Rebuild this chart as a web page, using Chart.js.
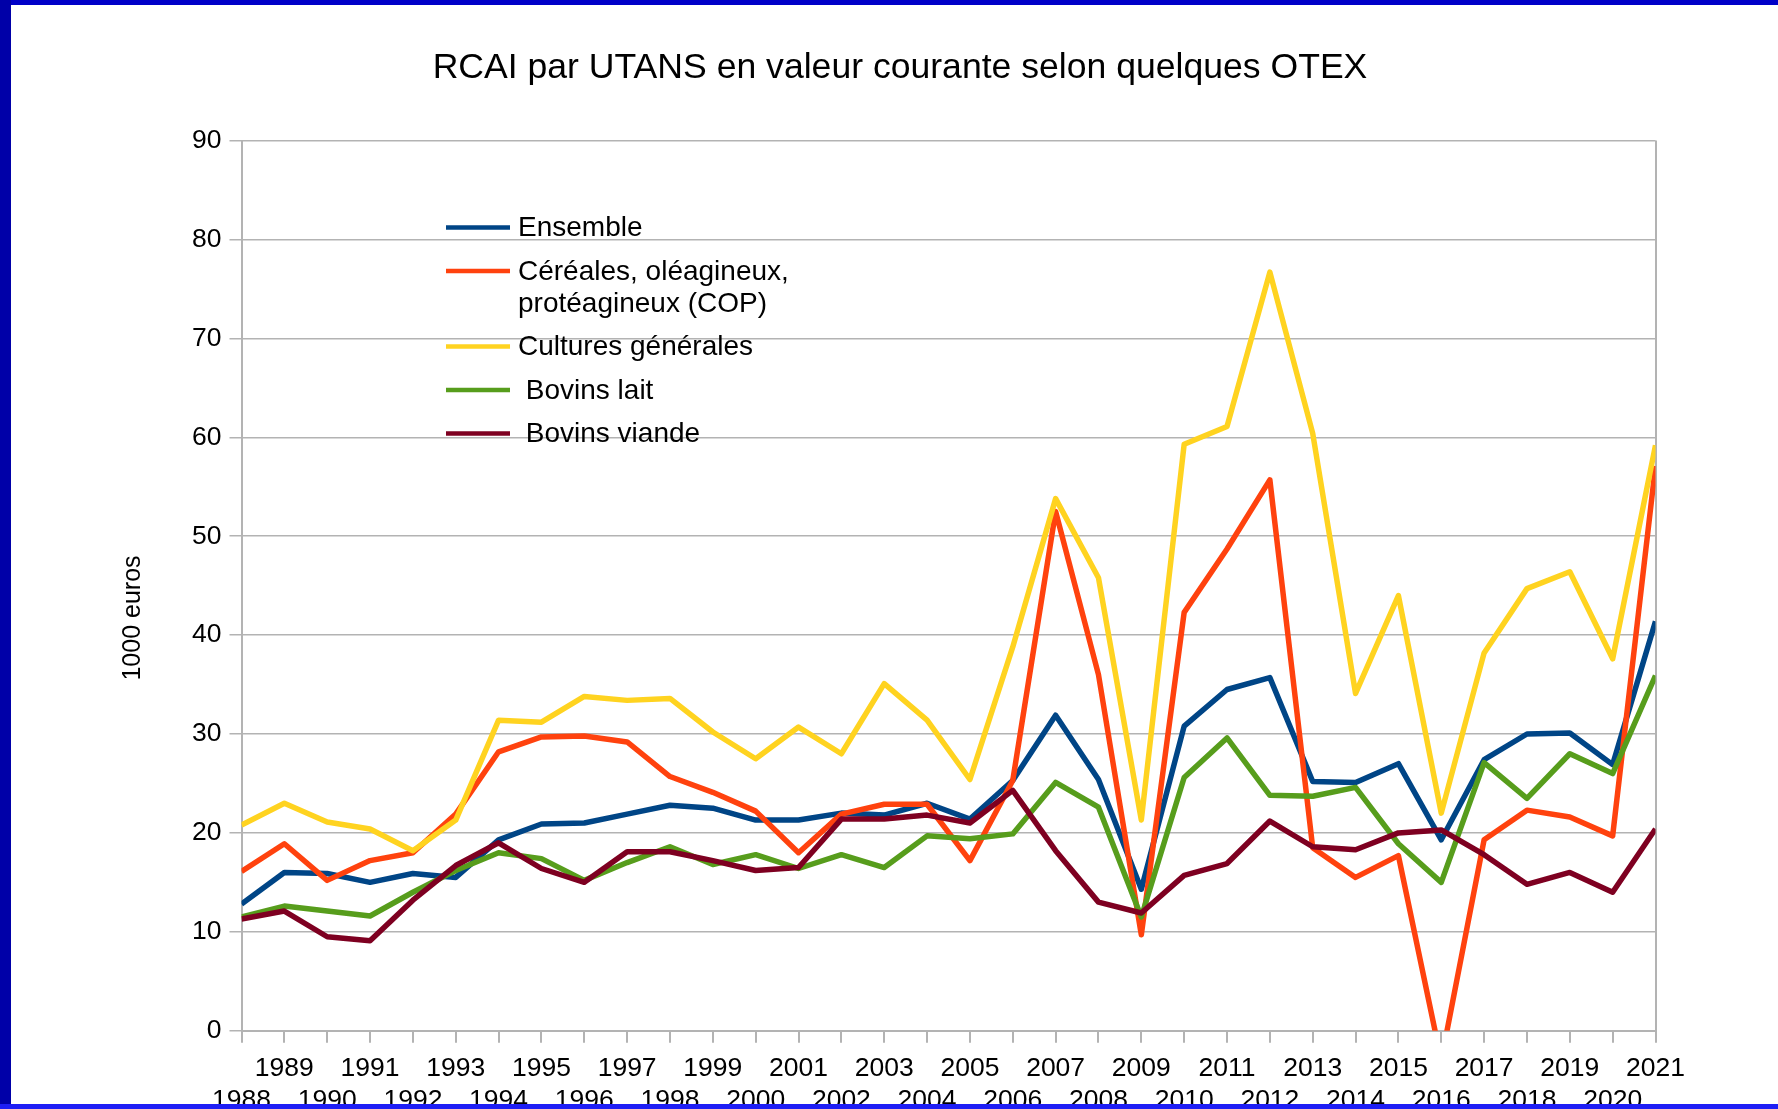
<!DOCTYPE html>
<html>
<head>
<meta charset="utf-8">
<title>RCAI par UTANS</title>
<script src="https://cdn.jsdelivr.net/npm/chart.js@4.4.1/dist/chart.umd.min.js"></script>
<style>
  html, body { margin: 0; padding: 0; background: #fff; }
  #wrap { position: relative; width: 1778px; height: 1109px; overflow: hidden; }
  #wrap canvas { position: absolute; left: 0; top: 0; }
  .bar { position: absolute; }
</style>
</head>
<body>
<div id="wrap">
  <canvas id="chart" width="1778" height="1109"></canvas>
  <div class="bar" style="left:0;top:0;width:1778px;height:5px;background:#0000c8"></div>
  <div class="bar" style="left:0;top:0;width:11px;height:1109px;background:#0000a8"></div>
  <div class="bar" style="left:0;top:1104px;width:1778px;height:5px;background:#1e1ef5"></div>
</div>
<script>
// données (1000 euros)
const years = ["1988", "1989", "1990", "1991", "1992", "1993", "1994", "1995", "1996", "1997",
               "1998", "1999", "2000", "2001", "2002", "2003", "2004", "2005", "2006", "2007",
               "2008", "2009", "2010", "2011", "2012", "2013", "2014", "2015", "2016", "2017",
               "2018", "2019", "2020", "2021"];

const ensemble = [12.8, 16.0, 15.9, 15.0, 15.9, 15.5, 19.3, 20.9, 21.0, 21.9,
                  22.8, 22.5, 21.3, 21.3, 22.0, 21.8, 23.0, 21.4, 25.3, 31.9,
                  25.4, 14.3, 30.8, 34.5, 35.7, 25.2, 25.1, 27.0, 19.3, 27.4,
                  30.0, 30.1, 26.9, 41.4];

const cereales = [16.1, 18.9, 15.2, 17.2, 18.0, 21.9, 28.2, 29.7, 29.8, 29.2,
                  25.7, 24.1, 22.2, 18.0, 21.9, 22.9, 22.9, 17.2, 25.3, 52.5,
                  36.0, 9.7, 42.3, 48.7, 55.7, 18.5, 15.5, 17.7, -3.0, 19.3,
                  22.3, 21.6, 19.7, 57.1];

const cultures = [20.8, 23.0, 21.1, 20.4, 18.2, 21.3, 31.4, 31.2, 33.8, 33.4,
                  33.6, 30.2, 27.5, 30.7, 28.0, 35.1, 31.4, 25.4, 38.8, 53.8,
                  45.8, 21.3, 59.3, 61.1, 76.7, 60.4, 34.1, 44.0, 22.0, 38.2,
                  44.7, 46.4, 37.6, 59.2];

const bovinsLait = [11.5, 12.6, 12.1, 11.6, 14.0, 16.2, 18.0, 17.4, 15.2, 17.0,
                    18.6, 16.8, 17.8, 16.4, 17.8, 16.5, 19.7, 19.4, 19.9, 25.1,
                    22.6, 11.5, 25.6, 29.6, 23.8, 23.7, 24.6, 18.9, 15.0, 27.1,
                    23.5, 28.0, 26.0, 35.9];

const bovinsViande = [11.3, 12.1, 9.5, 9.1, 13.2, 16.7, 19.0, 16.4, 15.0, 18.1,
                      18.1, 17.2, 16.2, 16.5, 21.4, 21.4, 21.8, 21.0, 24.3, 18.2,
                      13.0, 11.9, 15.7, 16.9, 21.2, 18.6, 18.3, 20.0, 20.3, 17.8,
                      14.8, 16.0, 14.0, 20.4];

const seriesNames = ["Ensemble", "Céréales, oléagineux,\nprotéagineux (COP)", "Cultures générales", " Bovins lait", " Bovins viande"];
const yTicks = [0, 10, 20, 30, 40, 50, 60, 70, 80, 90];

const chartTitle = "RCAI par UTANS en valeur courante selon quelques OTEX";
const yTitle = "1000 euros";

const colors = ["#004586", "#ff420e", "#ffd320", "#579d1c", "#7e0021"];
const FONT = '"Liberation Sans", Arial, sans-serif';
const GRID = "#b3b3b3";

// titre, titre de l'axe Y et légende dessinés à la main
const decorations = {
    id: "decorations",
    afterDraw(chart) {
        const ctx = chart.ctx;
        const area = chart.chartArea;
        ctx.save();
        ctx.fillStyle = "#000";
        ctx.textBaseline = "middle";

        ctx.font = "35.6px " + FONT;
        ctx.textAlign = "center";
        ctx.fillText(chartTitle, 900, 68);

        ctx.save();
        ctx.translate(133, 618);
        ctx.rotate(-Math.PI / 2);
        ctx.font = "25px " + FONT;
        ctx.fillText(yTitle, 0, 0);
        ctx.restore();

        // légende dans la zone du graphique
        ctx.font = "28px " + FONT;
        ctx.textAlign = "left";
        const x0 = area.left + 204.5;
        let y = area.top + 87;
        chart.data.datasets.forEach((ds, i) => {
            const lines = seriesNames[i].split("\n");
            ctx.strokeStyle = ds.borderColor;
            ctx.lineWidth = 4.5;
            ctx.beginPath();
            ctx.moveTo(x0, y);
            ctx.lineTo(x0 + 64, y);
            ctx.stroke();
            lines.forEach((t, k) => ctx.fillText(t, x0 + 72, y + 1 + k * 32));
            y += (lines.length - 1) * 32 + 43.5;
        });
        ctx.restore();
    }
};

const seriesData = [ensemble, cereales, cultures, bovinsLait, bovinsViande];

new Chart(document.getElementById("chart"), {
    type: "line",
    data: {
        labels: years,
        datasets: seriesData.map((d, i) => ({
            label: seriesNames[i].replace("\n", " "),
            data: d,
            borderColor: colors[i],
            backgroundColor: colors[i],
            borderWidth: 5.5,
            pointRadius: 0,
            tension: 0,
            borderJoinStyle: "round",
            clip: 0,
            order: seriesData.length - i
        }))
    },
    options: {
        responsive: false,
        animation: false,
        layout: { padding: { top: 140.6, right: 122.5, bottom: 0, left: 0 } },
        plugins: {
            legend: { display: false },
            title: { display: false },
            tooltip: { enabled: false }
        },
        scales: {
            x: {
                offset: false,
                grid: {
                    drawOnChartArea: true,
                    color: c => (c.index === years.length - 1 ? GRID : "rgba(0,0,0,0)"),
                    tickColor: GRID,
                    tickLength: 12,
                    lineWidth: 2
                },
                border: { color: GRID, width: 2 },
                ticks: {
                    autoSkip: false,
                    maxRotation: 0,
                    minRotation: 0,
                    padding: 10.5,
                    color: "#000",
                    font: { family: FONT, size: 26.5 },
                    callback: function (value, index) {
                        const lab = this.getLabelForValue(value);
                        return index % 2 === 0 ? ["", lab] : lab;
                    }
                },
                afterFit: s => {
                    s.height = 1109 - 1030.7;
                    s.paddingLeft = 0;
                    s.paddingRight = 0;
                }
            },
            y: {
                min: yTicks[0],
                max: yTicks[yTicks.length - 1],
                afterBuildTicks: s => { s.ticks = yTicks.map(v => ({ value: v })); },
                grid: { color: GRID, lineWidth: 1.5, tickLength: 12, tickColor: GRID },
                border: { color: GRID, width: 2 },
                ticks: {
                    padding: 8,
                    color: "#000",
                    font: { family: FONT, size: 26.5 }
                },
                afterFit: s => {
                    s.width = 241.5;
                    s.paddingTop = 0;
                    s.paddingBottom = 0;
                }
            }
        }
    },
    plugins: [decorations]
});
</script>
</body>
</html>
